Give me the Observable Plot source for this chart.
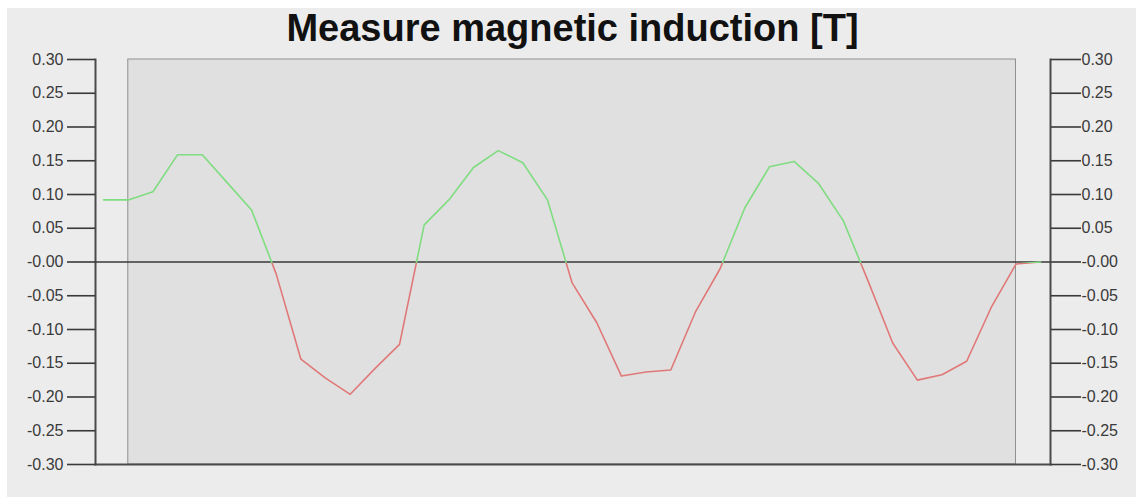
<!DOCTYPE html>
<html>
<head>
<meta charset="utf-8">
<script src="https://cdn.jsdelivr.net/npm/d3@7"></script>
<script src="https://cdn.jsdelivr.net/npm/@observablehq/plot@0.6"></script>
<style>
  html, body { margin: 0; padding: 0; background: #ffffff; }
  #page { position: relative; width: 1136px; height: 497px; overflow: hidden; }
  #panel { position: absolute; left: 7px; top: 8px; width: 1129px; height: 489px; background: #ececec; }
  #title { position: absolute; left: 95px; width: 955px; top: 9px; text-align: center;
           font-family: "Liberation Sans", Arial, sans-serif; font-weight: bold; font-size: 38px;
           line-height: 38px; color: #111; }
  #chart { position: absolute; left: 0; top: 50px; }
</style>
</head>
<body>
<div id="page">
  <div id="panel"></div>
  <div id="title">Measure magnetic induction [T]</div>
  <div id="chart"></div>
</div>
<script>
// Sample index of each measurement
const sampleIndex = d3.range(39);
// Measured magnetic induction [T]
const induction = [
  0.092, 0.092, 0.104, 0.159, 0.159, 0.118, 0.077, -0.018, -0.144, -0.172,
  -0.196, -0.158, -0.122, 0.055, 0.092, 0.140, 0.165, 0.147, 0.092, -0.031,
  -0.090, -0.169, -0.163, -0.160, -0.074, -0.010, 0.080, 0.141, 0.149, 0.116,
  0.061, -0.028, -0.120, -0.175, -0.167, -0.147, -0.067, -0.003, 0.000
];
// Shaded measuring window (sample indices)
const windowRange = [1, 37];
// Y ticks and their labels
const tickValues = [0.30, 0.25, 0.20, 0.15, 0.10, 0.05, 0, -0.05, -0.10, -0.15, -0.20, -0.25, -0.30];
const tickLabels = ["0.30", "0.25", "0.20", "0.15", "0.10", "0.05", "-0.00", "-0.05", "-0.10", "-0.15", "-0.20", "-0.25", "-0.30"];

const data = sampleIndex.map((i) => ({i, v: induction[i]}));
const labelOf = (d) => tickLabels[tickValues.findIndex((t) => Math.abs(t - d) < 1e-9)];

const GREEN = "#80dc80";
const RED = "#e07878";
const yDomain = [tickValues[tickValues.length - 1], tickValues[0]];

const gradientDefs = (index, scales) => {
  const yt = scales.y(yDomain[1]), yb = scales.y(yDomain[0]), y0 = scales.y(0) + 1.2;
  const g = d3.create("svg:g");
  const grad = g.append("defs").append("linearGradient")
    .attr("id", "signGrad").attr("gradientUnits", "userSpaceOnUse")
    .attr("x1", 0).attr("x2", 0).attr("y1", yt).attr("y2", yb);
  const f = (y0 - yt) / (yb - yt);
  grad.append("stop").attr("offset", f).attr("stop-color", GREEN);
  grad.append("stop").attr("offset", f).attr("stop-color", RED);
  return g.node();
};

const chart = Plot.plot({
  width: 1136,
  height: 447,
  marginTop: 9,
  marginBottom: 33,
  marginLeft: 95,
  marginRight: 86,
  style: {background: "transparent", fontFamily: "'Liberation Sans', Arial, sans-serif", fontSize: "16px", color: "#3a3a3a"},
  x: {domain: [-0.33, sampleIndex.length - 1 + 0.4], axis: null},
  y: {domain: yDomain, axis: null},
  marks: [
    gradientDefs,
    Plot.rect([windowRange], {x1: (d) => d[0], x2: (d) => d[1], y1: yDomain[0], y2: yDomain[1],
      fill: "#e0e0e0", stroke: "#8f8f8f", strokeWidth: 1}),
    Plot.frame({anchor: "left", stroke: "#4a4a4a", strokeWidth: 2}),
    Plot.frame({anchor: "right", stroke: "#4a4a4a", strokeWidth: 2}),
    Plot.frame({anchor: "bottom", stroke: "#4a4a4a", strokeWidth: 2}),
    Plot.ruleY([0], {stroke: "#3a3a3a", strokeWidth: 1.6}),
    Plot.axisY({anchor: "left", ticks: tickValues, tickFormat: labelOf, tickSize: 28, tickPadding: 4,
      stroke: "#3a3a3a", strokeWidth: 1.6, label: null}),
    Plot.axisY({anchor: "right", ticks: tickValues, tickFormat: labelOf, tickSize: 30, tickPadding: 1,
      stroke: "#3a3a3a", strokeWidth: 1.6, label: null}),
    Plot.line(data, {x: "i", y: "v", stroke: "url(#signGrad)", strokeWidth: 1.6})
  ]
});
document.getElementById("chart").appendChild(chart);
</script>
</body>
</html>
